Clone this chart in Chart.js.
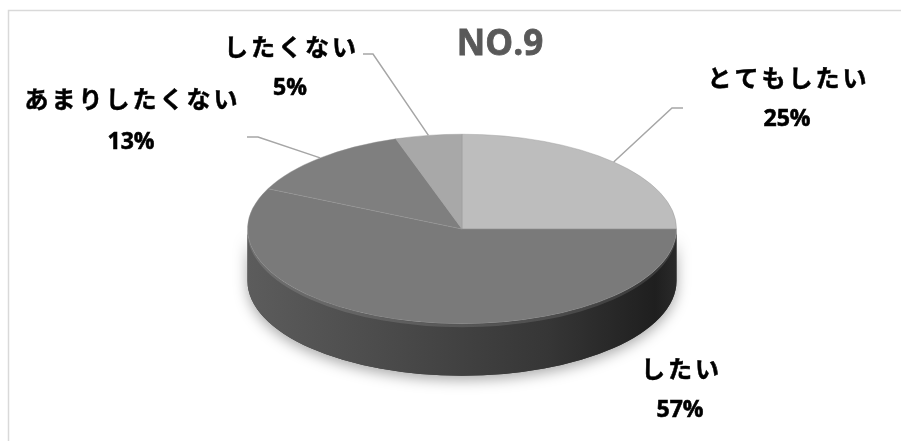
<!DOCTYPE html>
<html>
<head>
<meta charset="utf-8">
<script src="https://cdn.jsdelivr.net/npm/chart.js@4/dist/chart.umd.min.js"></script>
<style>
  html, body { margin: 0; padding: 0; background: #fff; }
  #wrap { width: 901px; height: 441px; }
</style>
</head>
<body>
<div id="wrap"><canvas id="grafico" width="901" height="441"></canvas></div>
<script>
// Datos del gráfico
const categorias = ['とてもしたい', 'したい', 'あまりしたくない', 'したくない'];
const valores = [25, 57, 13, 5];
const titulo = 'NO.9';

// Colores de la cara superior (escala de grises)
const coloresCara = ['#bdbdbd', '#7a7a7a', '#7f7f7f', '#a8a8a8'];

// Posiciones de las etiquetas: centro del texto y punto de quiebre de la línea guía
const etiquetas = [
  { x: 787, y: 78, yPct: 119, codo: [[683, 108], [672, 108]] },
  { x: 680, y: 369, yPct: 410, codo: null },
  { x: 131, y: 99, yPct: 142, codo: [[247, 137], [258, 137]] },
  { x: 290, y: 47, yPct: 88, codo: [[363, 54], [373, 54]] }
];

// Geometría del pastel "3D"
const CX = 462, CY = 229, INCLINACION = 95 / 215, PROFUNDIDAD = 52;

function puntoElipse(r, a, dy) {
  return [CX + r * Math.cos(a), CY + (dy || 0) + r * INCLINACION * Math.sin(a)];
}

// Plugin: dibuja el costado, aplana la cara superior y pone etiquetas
const pastel3d = {
  id: 'pastel3d',
  beforeDraw(chart) {
    const ctx = chart.ctx;
    ctx.save();
    ctx.strokeStyle = '#d9d9d9';
    ctx.lineWidth = 1.5;
    ctx.beginPath();
    ctx.moveTo(8.5, 445);
    ctx.lineTo(8.5, 10.5);
    ctx.lineTo(905, 10.5);
    ctx.stroke();
    ctx.restore();
  },
  beforeDatasetsDraw(chart) {
    const ctx = chart.ctx;
    const meta = chart.getDatasetMeta(0);
    const r = meta.data[0].outerRadius;

    // Sombra suave debajo del pastel
    ctx.save();
    ctx.shadowColor = 'rgba(0,0,0,0.35)';
    ctx.shadowBlur = 14;
    ctx.shadowOffsetY = 4;
    ctx.fillStyle = '#3a3a3a';
    ctx.beginPath();
    ctx.ellipse(CX, CY + PROFUNDIDAD, r, r * INCLINACION, 0, 0, Math.PI);
    ctx.ellipse(CX, CY, r, r * INCLINACION, 0, Math.PI, 0, true);
    ctx.closePath();
    ctx.fill();
    ctx.restore();

    // Costado de cada porción visible (mitad frontal)
    meta.data.forEach((arc) => {
      const p = arc.getProps(['startAngle', 'endAngle'], true);
      const a1 = Math.max(p.startAngle, 0);
      const a2 = Math.min(p.endAngle, Math.PI);
      if (a2 <= a1) return;
      const grad = ctx.createLinearGradient(CX - r, 0, CX + r, 0);
      grad.addColorStop(0, '#5c5c5c');
      grad.addColorStop(0.3, '#4c4c4c');
      grad.addColorStop(0.7, '#363636');
      grad.addColorStop(0.95, '#1f1f1f');
      grad.addColorStop(1, '#2a2a2a');
      ctx.save();
      ctx.fillStyle = grad;
      ctx.beginPath();
      ctx.ellipse(CX, CY, r, r * INCLINACION, 0, a1, a2);
      ctx.ellipse(CX, CY + PROFUNDIDAD, r, r * INCLINACION, 0, a2, a1, true);
      ctx.closePath();
      ctx.fill();
      // brillo del borde superior
      ctx.strokeStyle = 'rgba(255,255,255,0.12)';
      ctx.lineWidth = 3;
      ctx.beginPath();
      ctx.ellipse(CX, CY + 2, r - 1, r * INCLINACION, 0, a1, a2);
      ctx.stroke();
      ctx.restore();
    });

    // Aplanar la cara superior
    const centro = meta.data[0];
    ctx.save();
    ctx.translate(CX, CY);
    ctx.scale(1, INCLINACION);
    ctx.translate(-centro.x, -centro.y);
  },
  afterDatasetsDraw(chart) {
    chart.ctx.restore();
  },
  afterDraw(chart) {
    const ctx = chart.ctx;
    const meta = chart.getDatasetMeta(0);
    const total = valores.reduce((a, b) => a + b, 0);

    ctx.save();
    // Título
    ctx.fillStyle = '#595959';
    ctx.strokeStyle = '#595959';
    ctx.lineWidth = 0.8;
    ctx.font = 'bold 35px "Open Sans"';
    ctx.textAlign = 'center';
    ctx.textBaseline = 'alphabetic';
    ctx.fillText(titulo, 500, 55);
    ctx.strokeText(titulo, 500, 55);

    // Líneas guía
    ctx.strokeStyle = '#a6a6a6';
    ctx.lineWidth = 1.5;
    meta.data.forEach((arc, i) => {
      const lay = etiquetas[i];
      if (!lay.codo) return;
      const p = arc.getProps(['startAngle', 'endAngle', 'outerRadius'], true);
      const medio = (p.startAngle + p.endAngle) / 2;
      const fin = puntoElipse(p.outerRadius, medio);
      ctx.beginPath();
      ctx.moveTo(lay.codo[0][0], lay.codo[0][1]);
      ctx.lineTo(lay.codo[1][0], lay.codo[1][1]);
      ctx.lineTo(fin[0], fin[1]);
      ctx.stroke();
    });

    // Etiquetas
    ctx.fillStyle = '#000';
    ctx.strokeStyle = '#000';
    ctx.textBaseline = 'middle';
    categorias.forEach((cat, i) => {
      const lay = etiquetas[i];
      ctx.letterSpacing = '3px';
      ctx.font = 'bold 24px "Noto Sans CJK JP"';
      ctx.lineWidth = 0.5;
      ctx.fillText(cat, lay.x + 1.5, lay.y);
      ctx.strokeText(cat, lay.x + 1.5, lay.y);
      ctx.letterSpacing = '0px';
      ctx.font = 'bold 23px "Open Sans"';
      ctx.lineWidth = 0.6;
      const pct = Math.round(valores[i] / total * 100) + '%';
      ctx.fillText(pct, lay.x, lay.yPct);
      ctx.strokeText(pct, lay.x, lay.yPct);
    });
    ctx.restore();
  }
};

document.addEventListener('DOMContentLoaded', () => {
  const ctx = document.getElementById('grafico').getContext('2d');
  new Chart(ctx, {
    type: 'pie',
    data: {
      labels: categorias,
      datasets: [{
        data: valores,
        backgroundColor: coloresCara,
        borderColor: 'rgba(150,150,150,0.6)',
        borderWidth: 1,
        clip: false
      }]
    },
    options: {
      responsive: false,
      animation: false,
      events: [],
      rotation: 0,
      layout: { padding: { left: 247, right: 224, top: 5, bottom: 6 } },
      plugins: {
        legend: { display: false },
        tooltip: { enabled: false },
        title: { display: false }
      }
    },
    plugins: [pastel3d]
  });
});
</script>
</body>
</html>
